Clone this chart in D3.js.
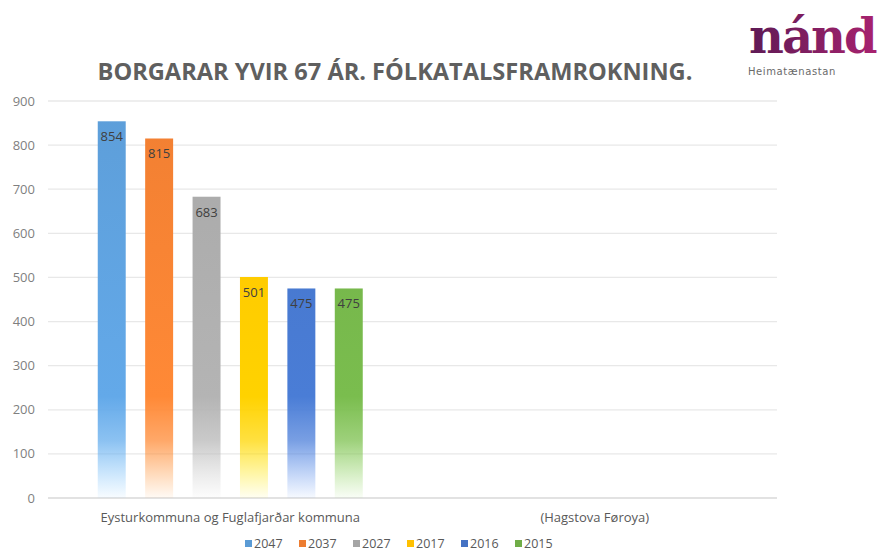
<!DOCTYPE html>
<html>
<head>
<meta charset="utf-8">
<script src="https://cdn.jsdelivr.net/npm/d3@7"></script>
<style>
  body { margin: 0; background: #fff; }
  svg { display: block; }
</style>
</head>
<body>
<svg id="chart" width="877" height="553"></svg>
<script>
// data
var categories = ["Eysturkommuna og Fuglafjarðar kommuna", "(Hagstova Føroya)"];
var years = ["2047", "2037", "2027", "2017", "2016", "2015"];
var values2047 = [854, null];
var values2037 = [815, null];
var values2027 = [683, null];
var values2017 = [501, null];
var values2016 = [475, null];
var values2015 = [475, null];
var yTicks = [0, 100, 200, 300, 400, 500, 600, 700, 800, 900];
var colors = ["#5B9BD5", "#ED7D31", "#A5A5A5", "#FFC000", "#4472C4", "#70AD47"];

var seriesValues = [values2047, values2037, values2027, values2017, values2016, values2015];

var font = "Open Sans, Arial, sans-serif";
var svg = d3.select("#chart");
var margin = { left: 48, right: 100, top: 101, bottom: 55 };
var width = 877 - margin.left - margin.right;
var height = 553 - margin.top - margin.bottom;

var x0 = d3.scaleBand().domain(categories).range([margin.left, margin.left + width]);
var x1 = d3.scaleBand().domain(years).range([-132.5, 132.5]).paddingInner(0.41);
var y = d3.scaleLinear().domain([0, 900]).range([margin.top + height, margin.top]);

// gradients: solid on top, fading to white at the base
var defs = svg.append("defs");
years.forEach(function (yr, i) {
  var g = defs.append("linearGradient")
    .attr("id", "grad" + yr)
    .attr("gradientUnits", "userSpaceOnUse")
    .attr("x1", 0).attr("x2", 0)
    .attr("y1", y(900)).attr("y2", y(0));
  var c = d3.color(colors[i]);
  g.append("stop").attr("offset", "0").attr("stop-color", c.brighter(0.05));
  g.append("stop").attr("offset", (y(230) - y(900)) / (y(0) - y(900))).attr("stop-color", c.brighter(0.25));
  g.append("stop").attr("offset", (y(130) - y(900)) / (y(0) - y(900))).attr("stop-color", c.brighter(0.3)).attr("stop-opacity", 0.75);
  g.append("stop").attr("offset", "1").attr("stop-color", c.brighter(0.6)).attr("stop-opacity", 0.05);
});

// gridlines
svg.append("g")
  .selectAll("line")
  .data(yTicks)
  .join("line")
  .attr("x1", margin.left)
  .attr("x2", margin.left + width)
  .attr("y1", function (d) { return y(d); })
  .attr("y2", function (d) { return y(d); })
  .style("stroke", function (d) { return d === 0 ? "#d9d9d9" : "#e8e8e8"; })
  .style("stroke-width", 1.3);

// y axis labels
svg.append("g")
  .selectAll("text")
  .data(yTicks)
  .join("text")
  .attr("x", 35)
  .attr("y", function (d) { return y(d); })
  .attr("dy", ".35em")
  .style("text-anchor", "end")
  .style("font-family", font)
  .style("font-size", "13px")
  .style("fill", "#7f7f7f")
  .text(function (d) { return d; });

// bars
var groups = svg.append("g")
  .selectAll("g")
  .data(categories)
  .join("g")
  .attr("transform", function (d) { return "translate(" + (x0(d) + x0.bandwidth() / 2) + ",0)"; });

groups.each(function (cat, ci) {
  var g = d3.select(this);
  var rows = years.map(function (yr, si) { return { year: yr, value: seriesValues[si][ci], i: si }; })
    .filter(function (r) { return r.value != null; });

  g.selectAll("rect")
    .data(rows)
    .join("rect")
    .attr("x", function (d) { return x1(d.year); })
    .attr("width", x1.bandwidth())
    .attr("y", function (d) { return y(d.value); })
    .attr("height", function (d) { return y(0) - y(d.value); })
    .style("fill", function (d) { return "url(#grad" + d.year + ")"; });

  g.selectAll("text")
    .data(rows)
    .join("text")
    .attr("x", function (d) { return x1(d.year) + x1.bandwidth() / 2; })
    .attr("y", function (d) { return y(d.value) + 20; })
    .style("text-anchor", "middle")
    .style("font-family", font)
    .style("font-size", "13px")
    .style("fill", "#404040")
    .text(function (d) { return d.value; });
});

// category labels
svg.append("g")
  .selectAll("text")
  .data(categories)
  .join("text")
  .attr("x", function (d) { return x0(d) + x0.bandwidth() / 2; })
  .attr("y", 522)
  .style("text-anchor", "middle")
  .style("font-family", font)
  .style("font-size", "13px")
  .style("fill", "#595959")
  .text(function (d) { return d; });

// title
svg.append("text")
  .attr("x", 395)
  .attr("y", 80)
  .style("text-anchor", "middle")
  .style("font-family", font)
  .style("font-weight", 700)
  .style("font-size", "23.6px")
  .style("fill", "#5f5f5f")
  .text("BORGARAR YVIR 67 ÁR. FÓLKATALSFRAMROKNING.");

// legend
var legend = svg.append("g").attr("transform", "translate(245,548)");
var item = legend.selectAll("g")
  .data(years)
  .join("g")
  .attr("transform", function (d, i) { return "translate(" + (i * 54) + ",0)"; });
item.append("rect")
  .attr("x", 0).attr("y", -8)
  .attr("width", 7).attr("height", 7)
  .style("fill", function (d, i) { return colors[i]; });
item.append("text")
  .attr("x", 9).attr("y", 0)
  .style("font-family", font)
  .style("font-size", "12.5px")
  .style("fill", "#595959")
  .text(function (d) { return d; });

// logo
var lg = defs.append("linearGradient").attr("id", "logoGrad").attr("x1", 0).attr("x2", 1);
lg.append("stop").attr("offset", "0").attr("stop-color", "#5e1a55");
lg.append("stop").attr("offset", "1").attr("stop-color", "#a8226f");
svg.append("text")
  .attr("x", 749)
  .attr("y", 53)
  .style("font-family", "DejaVu Serif, Georgia, serif")
  .style("font-weight", 700)
  .style("font-size", "48px")
  .style("letter-spacing", "-2px")
  .style("fill", "url(#logoGrad)")
  .text("nánd");
svg.append("text")
  .attr("x", 748)
  .attr("y", 75)
  .style("font-family", "DejaVu Sans, sans-serif")
  .style("font-size", "10px")
  .style("letter-spacing", "0.6px")
  .style("fill", "#6a6a6a")
  .text("Heimatænastan");
</script>
</body>
</html>
